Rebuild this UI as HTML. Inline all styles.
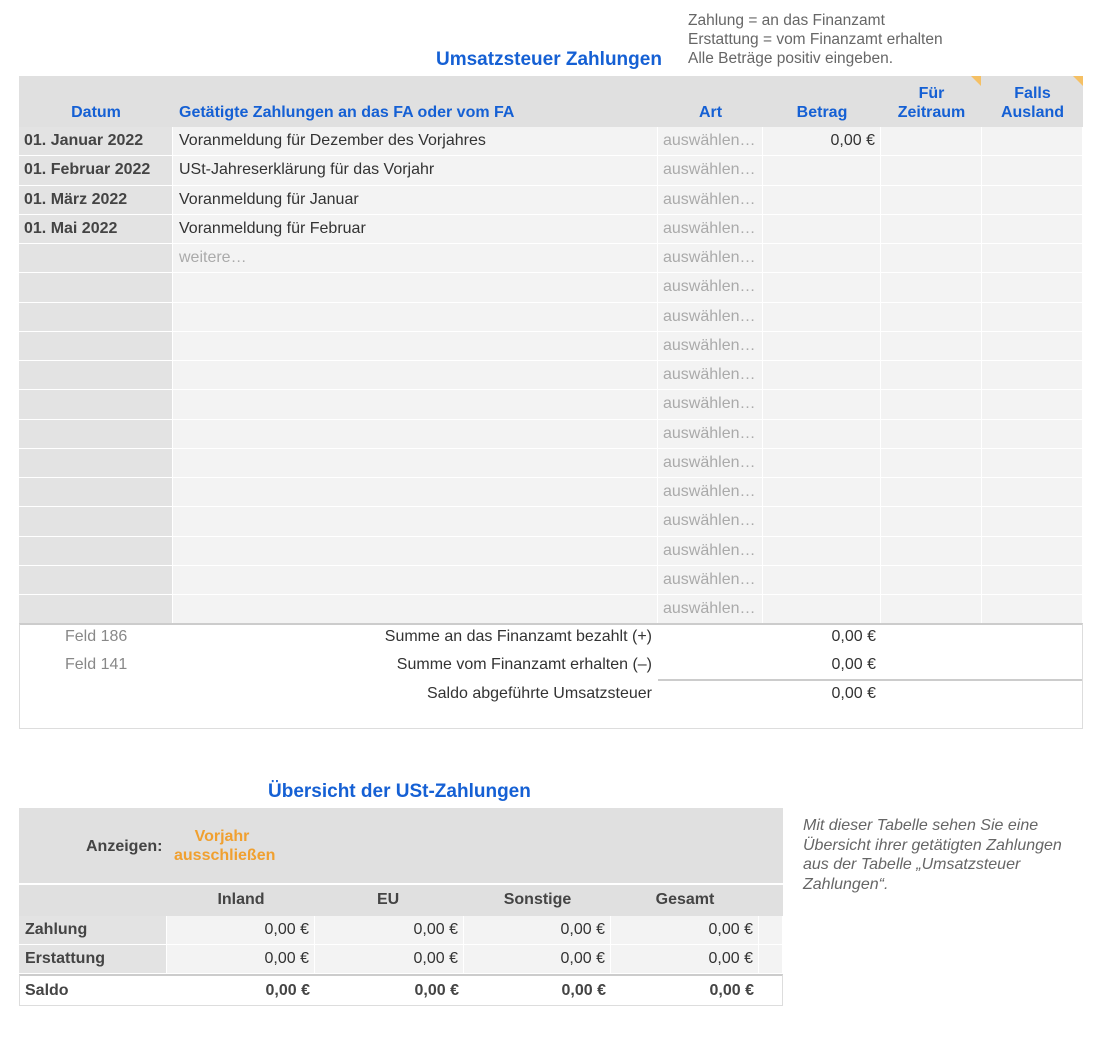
<!DOCTYPE html>
<html><head><meta charset="utf-8"><style>
body{margin:0;width:1100px;height:1038px;background:#fff;font-family:"Liberation Sans",Arial,sans-serif;position:relative;overflow:hidden;color:#333}
.a{position:absolute}
.note{font-size:15.5px;color:#666;line-height:19px}
.title{color:#1560d4;font-weight:bold;font-size:19px}
.g{position:absolute;left:19px;top:76px;width:1064px;display:grid;grid-template-columns:154px 485px 105px 118px 101px 101px;grid-template-rows:51px repeat(17,29.25px)}
.g div{box-sizing:border-box;border-right:1px solid #fff;border-bottom:1px solid #fff;background:#f3f3f3;font-size:16px;padding:0 6px;display:flex;align-items:center;white-space:nowrap}
.g .h{background:#e0e0e0;color:#1560d4;font-weight:bold;align-items:flex-end;justify-content:center;padding-bottom:5px;text-align:center;line-height:19px;border:none}
.g .d{background:#e3e3e3;font-weight:bold;color:#444;padding-left:5px}
.g .s{color:#aaa;padding-left:5px}
.g .r{justify-content:flex-end;padding-right:5px}
.tri{position:absolute;width:0;height:0;border-top:10px solid #f5c064;border-left:10px solid transparent}
.t2{position:absolute;left:19px;top:808px;width:764px}
.t2 .row{display:flex;height:29px;box-sizing:border-box}
.t2 .row div{box-sizing:border-box;font-size:16px;display:flex;align-items:center;border-right:1px solid #fff;border-bottom:1px solid #fff}
.f{font-size:16px}
</style></head><body>
<div class="a note" style="left:688px;top:11px">Zahlung = an das Finanzamt<br>Erstattung = vom Finanzamt erhalten<br>Alle Beträge positiv eingeben.</div>
<div class="a title" style="left:436px;top:49px">Umsatzsteuer Zahlungen</div>
<div class="g">
<div class="h">Datum</div><div class="h" style="justify-content:flex-start">Getätigte Zahlungen an das FA oder vom FA</div><div class="h">Art</div><div class="h">Betrag</div><div class="h">Für<br>Zeitraum</div><div class="h">Falls<br>Ausland</div>
<div class="d">01. Januar 2022</div><div>Voranmeldung für Dezember des Vorjahres</div><div class="s">auswählen…</div><div class="r">0,00 €</div><div></div><div></div>
<div class="d">01. Februar 2022</div><div>USt-Jahreserklärung für das Vorjahr</div><div class="s">auswählen…</div><div></div><div></div><div></div>
<div class="d">01. März 2022</div><div>Voranmeldung für Januar</div><div class="s">auswählen…</div><div></div><div></div><div></div>
<div class="d">01. Mai 2022</div><div>Voranmeldung für Februar</div><div class="s">auswählen…</div><div></div><div></div><div></div>
<div class="d"></div><div style="color:#aaa">weitere…</div><div class="s">auswählen…</div><div></div><div></div><div></div>
<div class="d"></div><div></div><div class="s">auswählen…</div><div></div><div></div><div></div>
<div class="d"></div><div></div><div class="s">auswählen…</div><div></div><div></div><div></div>
<div class="d"></div><div></div><div class="s">auswählen…</div><div></div><div></div><div></div>
<div class="d"></div><div></div><div class="s">auswählen…</div><div></div><div></div><div></div>
<div class="d"></div><div></div><div class="s">auswählen…</div><div></div><div></div><div></div>
<div class="d"></div><div></div><div class="s">auswählen…</div><div></div><div></div><div></div>
<div class="d"></div><div></div><div class="s">auswählen…</div><div></div><div></div><div></div>
<div class="d"></div><div></div><div class="s">auswählen…</div><div></div><div></div><div></div>
<div class="d"></div><div></div><div class="s">auswählen…</div><div></div><div></div><div></div>
<div class="d"></div><div></div><div class="s">auswählen…</div><div></div><div></div><div></div>
<div class="d"></div><div></div><div class="s">auswählen…</div><div></div><div></div><div></div>
<div class="d"></div><div></div><div class="s">auswählen…</div><div></div><div></div><div></div>
</div>
<div class="tri" style="left:971px;top:76px"></div>
<div class="tri" style="left:1073px;top:76px"></div>
<div class="a" style="left:19px;top:623px;width:1062px;height:103px;border:1px solid #ddd;border-top:2px solid #ccc"></div>
<div class="a f" style="left:65px;top:628px;color:#888">Feld 186</div>
<div class="a f" style="left:65px;top:656px;color:#888">Feld 141</div>
<div class="a f" style="left:150px;width:502px;text-align:right;top:628px">Summe an das Finanzamt bezahlt (+)</div>
<div class="a f" style="left:150px;width:502px;text-align:right;top:656px">Summe vom Finanzamt erhalten (–)</div>
<div class="a f" style="left:150px;width:502px;text-align:right;top:685px">Saldo abgeführte Umsatzsteuer</div>
<div class="a f" style="left:770px;width:106px;text-align:right;top:628px">0,00 €</div>
<div class="a f" style="left:770px;width:106px;text-align:right;top:656px">0,00 €</div>
<div class="a f" style="left:770px;width:106px;text-align:right;top:685px">0,00 €</div>
<div class="a" style="left:658px;top:679px;width:424px;height:2px;background:#ccc"></div>

<div class="a title" style="left:268px;top:781px">Übersicht der USt-Zahlungen</div>
<div class="a" style="left:19px;top:808px;width:764px;height:75px;background:#e0e0e0"></div>
<div class="a" style="left:19px;top:885px;width:764px;height:31px;background:#e0e0e0"></div>
<div class="a f" style="left:86px;top:838px;font-weight:bold;color:#444">Anzeigen:</div>
<div class="a f" style="left:174px;top:827px;width:96px;text-align:center;font-weight:bold;color:#f0a030;line-height:19px">Vorjahr<br>ausschließen</div>
<div class="a f" style="left:167px;top:891px;width:148px;text-align:center;font-weight:bold;color:#444">Inland</div>
<div class="a f" style="left:315px;top:891px;width:149px;text-align:left;padding-left:62px;box-sizing:border-box;font-weight:bold;color:#444">EU</div>
<div class="a f" style="left:464px;top:891px;width:147px;text-align:center;font-weight:bold;color:#444">Sonstige</div>
<div class="a f" style="left:611px;top:891px;width:148px;text-align:center;font-weight:bold;color:#444">Gesamt</div>
<div class="t2" style="top:916px">
<div class="row"><div style="width:148px;background:#e3e3e3;font-weight:bold;padding-left:6px;color:#444">Zahlung</div><div style="width:148px;background:#f3f3f3;justify-content:flex-end;padding-right:5px">0,00 €</div><div style="width:149px;background:#f3f3f3;justify-content:flex-end;padding-right:5px">0,00 €</div><div style="width:147px;background:#f3f3f3;justify-content:flex-end;padding-right:5px">0,00 €</div><div style="width:148px;background:#f3f3f3;justify-content:flex-end;padding-right:5px">0,00 €</div><div style="width:24px;background:#f3f3f3"></div></div>
<div class="row"><div style="width:148px;background:#e3e3e3;font-weight:bold;padding-left:6px;color:#444">Erstattung</div><div style="width:148px;background:#f3f3f3;justify-content:flex-end;padding-right:5px">0,00 €</div><div style="width:149px;background:#f3f3f3;justify-content:flex-end;padding-right:5px">0,00 €</div><div style="width:147px;background:#f3f3f3;justify-content:flex-end;padding-right:5px">0,00 €</div><div style="width:148px;background:#f3f3f3;justify-content:flex-end;padding-right:5px">0,00 €</div><div style="width:24px;background:#f3f3f3"></div></div>
</div>
<div class="a" style="left:19px;top:974px;width:762px;height:29px;border:1px solid #ddd;border-top:2px solid #ccc"></div>
<div class="a f" style="left:25px;top:982px;font-weight:bold;color:#444">Saldo</div>
<div class="a f" style="left:167px;width:143px;text-align:right;top:982px;font-weight:bold;color:#444">0,00 €</div>
<div class="a f" style="left:315px;width:144px;text-align:right;top:982px;font-weight:bold;color:#444">0,00 €</div>
<div class="a f" style="left:464px;width:142px;text-align:right;top:982px;font-weight:bold;color:#444">0,00 €</div>
<div class="a f" style="left:611px;width:143px;text-align:right;top:982px;font-weight:bold;color:#444">0,00 €</div>
<div class="a note" style="left:803px;top:816px;font-style:italic;font-size:16px;line-height:19.5px;width:297px">Mit dieser Tabelle sehen Sie eine<br>Übersicht ihrer getätigten Zahlungen<br>aus der Tabelle „Umsatzsteuer<br>Zahlungen“.</div>
</body></html>
